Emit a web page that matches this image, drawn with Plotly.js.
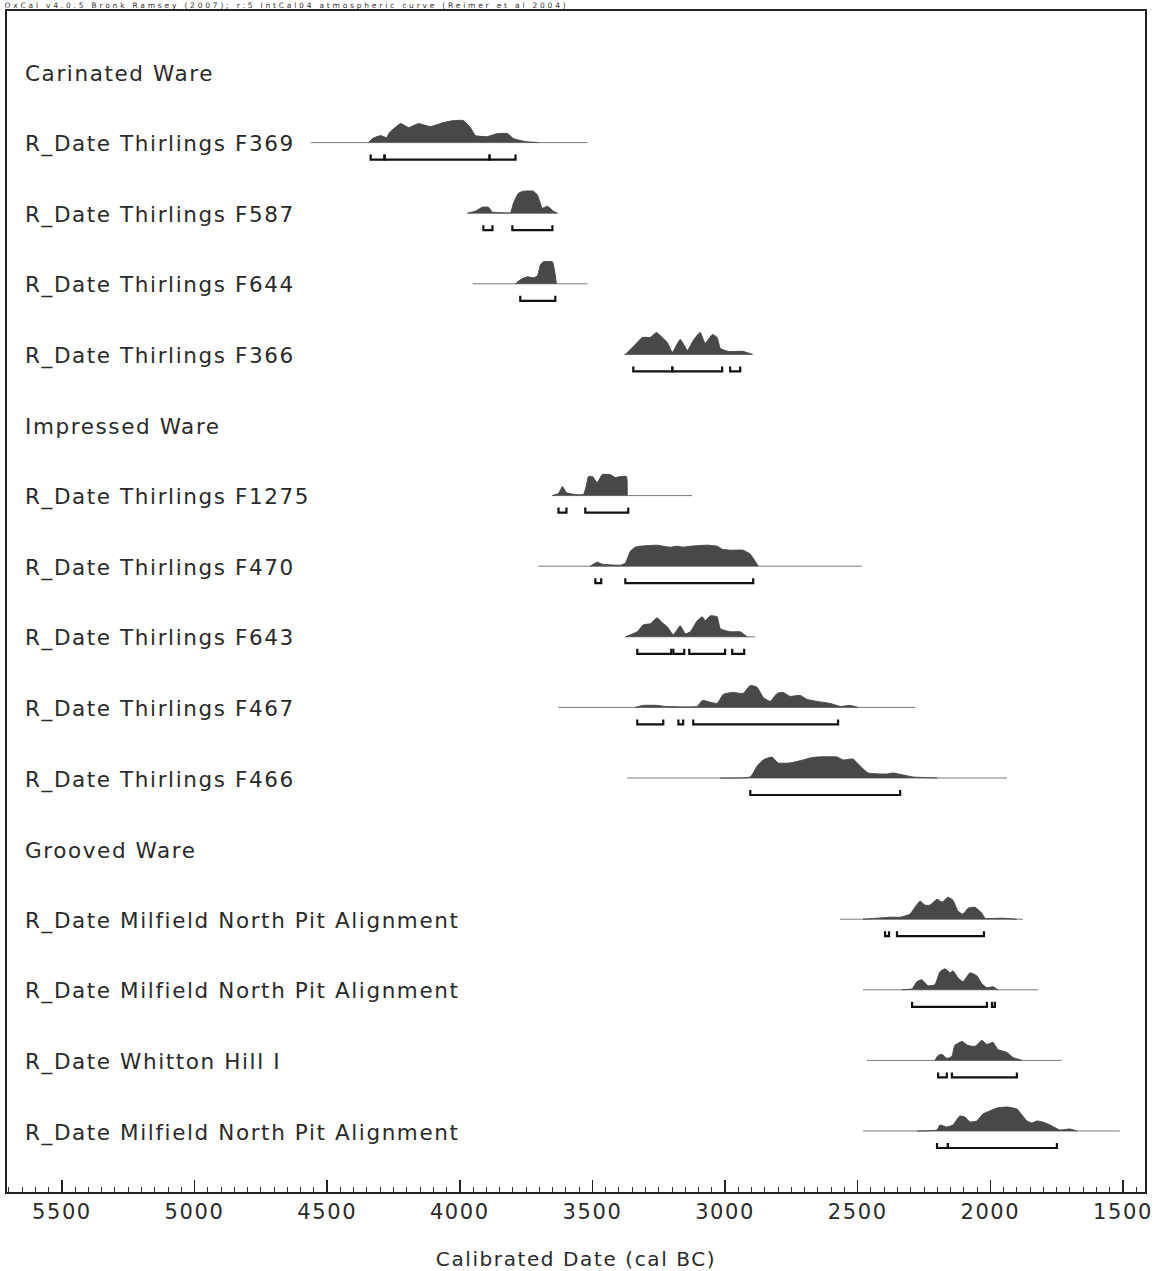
<!DOCTYPE html>
<html>
<head>
<meta charset="utf-8">
<script src="https://cdn.plot.ly/plotly-3.0.1.min.js"></script>
<style>
html, body { margin: 0; padding: 0; background: #fff; }
#chart { width: 1168px; height: 1271px; }
.annotation-text, .xtick text, .g-xtitle text { letter-spacing: 1.6px; }
g.annotation[data-index="0"] text { letter-spacing: 2.8px; }
</style>
</head>
<body>
<div id="chart"></div>
<script>
// ---------- DATA (calendar years BC; probability = relative density) ----------
const headerText = "OxCal v4.0.5 Bronk Ramsey (2007); r:5 IntCal04 atmospheric curve (Reimer et al 2004)";
const axisTitle = "Calibrated Date (cal BC)";
const tickValues = [5500, 5000, 4500, 4000, 3500, 3000, 2500, 2000, 1500];

const rowLabels = [
  "Carinated Ware",
  "R_Date Thirlings F369",
  "R_Date Thirlings F587",
  "R_Date Thirlings F644",
  "R_Date Thirlings F366",
  "Impressed Ware",
  "R_Date Thirlings F1275",
  "R_Date Thirlings F470",
  "R_Date Thirlings F643",
  "R_Date Thirlings F467",
  "R_Date Thirlings F466",
  "Grooved Ware",
  "R_Date Milfield North Pit Alignment",
  "R_Date Milfield North Pit Alignment",
  "R_Date Whitton Hill I",
  "R_Date Milfield North Pit Alignment"
];

// F369
const f369Line = [4562, 3519];
const f369Dates = [4344,4329,4299,4276,4265,4223,4193,4156,4111,4062,4024,3986,3960,3941,3896,3858,3820,3798,3753,3704];
const f369Prob  = [0,4,7,5,10,19,15,19,16,20,22,22,15,7,6,9,9,4,1,0];
const f369Ranges = [[4336,4284],[4284,3888],[3888,3790]];

// F587
const f587Line = [3971, 3632];
const f587Dates = [3971,3941,3915,3892,3877,3847,3809,3798,3779,3760,3722,3707,3689,3670,3647,3632];
const f587Prob  = [0,2,6,6,1,0.5,0.5,10,20,22,22,18,5,7,2,0];
const f587Ranges = [[3911,3877],[3802,3651]];

// F644
const f644Line = [3952, 3519];
const f644Dates = [3790,3772,3745,3722,3707,3696,3685,3651,3644,3636];
const f644Prob  = [0,4,7,6,8,19,22,22,15,0];
const f644Ranges = [[3772,3640]];

// F366
const f366Line = [3380, 2894];
const f366Dates = [3376,3357,3331,3312,3282,3259,3237,3218,3199,3169,3142,3120,3094,3075,3048,3030,3018,2988,2932,2898];
const f366Prob  = [0,5,12,17,17,22,17,12,2,15,4,14,22,11,20,17,6,3,3,0];
const f366Ranges = [[3346,3199],[3199,3011],[2981,2943]];

// F1275
const f1275Line = [3651, 3124];
const f1275Dates = [3651,3628,3613,3598,3564,3534,3523,3515,3500,3482,3463,3433,3414,3395,3372,3369];
const f1275Prob  = [0,2,9,3,1,1,10,19,19,13,21,21,18,19,19,0];
const f1275Ranges = [[3628,3598],[3527,3365]];

// F470
const f470Line = [3704, 2484];
const f470Dates = [3508,3482,3463,3395,3376,3357,3339,3320,3256,3233,3207,3180,3158,3131,3067,3030,3011,2981,2932,2905,2875];
const f470Prob  = [0,4,2,1,3,15,19,20,21,20,19,20,19,20,21,20,17,16,16,12,0];
const f470Ranges = [[3489,3467],[3376,2894]];

// F643
const f643Line = [3376, 2887];
const f643Dates = [3376,3331,3308,3282,3256,3237,3218,3195,3169,3150,3131,3105,3086,3075,3056,3030,3018,2981,2943,2917];
const f643Prob  = [0,5,12,13,19,14,10,2,11,3,5,16,20,16,21,20,8,5,5,0];
const f643Ranges = [[3331,3203],[3195,3154],[3135,3000],[2973,2928]];

// F467
const f467Line = [3629, 2284];
const f467Dates = [3339,3308,3256,3225,3105,3086,3067,3030,3007,2973,2932,2905,2879,2856,2830,2804,2781,2755,2717,2691,2653,2604,2566,2529,2499];
const f467Prob  = [0,2,2,1,1,7,6,4,13,15,14,22,20,10,6,14,15,11,12,8,6,4,1,2,0];
const f467Ranges = [[3331,3233],[3176,3158],[3120,2574]];

// F466
const f466Line = [3369, 1938];
const f466Dates = [3018,2905,2879,2856,2823,2800,2755,2706,2680,2653,2578,2555,2518,2491,2461,2416,2390,2367,2329,2292,2201];
const f466Prob  = [0,1,12,18,21,15,15,18,20,21,21,18,19,12,5,4,4,5,3,1,0];
const f466Ranges = [[2905,2340]];

// Milfield North Pit Alignment (1)
const mnpa1Line = [2567, 1877];
const mnpa1Dates = [2480,2427,2378,2340,2303,2284,2265,2246,2228,2201,2182,2160,2141,2122,2103,2084,2058,2032,2020,1953,1900];
const mnpa1Prob  = [0,1,2,2,5,12,18,14,14,20,17,22,19,8,5,11,12,6,1,1,0];
const mnpa1Ranges = [[2397,2382],[2352,2024]];

// Milfield North Pit Alignment (2)
const mnpa2Line = [2480, 1821];
const mnpa2Dates = [2333,2295,2277,2258,2235,2209,2190,2171,2152,2141,2122,2103,2077,2051,2032,2013,1990,1972];
const mnpa2Prob  = [0,1,8,10,4,5,18,21,17,19,12,8,17,14,6,2,3,0];
const mnpa2Ranges = [[2295,2013],[1994,1983]];

// Whitton Hill I
const whitLine = [2465, 1731];
const whitDates = [2209,2197,2182,2164,2145,2134,2107,2085,2058,2032,2013,1990,1972,1938,1915,1881];
const whitProb  = [0,5,6,2,4,15,19,15,14,20,16,18,11,8,3,0];
const whitRanges = [[2197,2164],[2145,1900]];

// Milfield North Pit Alignment (3)
const mnpa3Line = [2480, 1512];
const mnpa3Dates = [2277,2201,2190,2164,2141,2115,2096,2077,2051,2028,2002,1975,1937,1900,1881,1862,1843,1825,1802,1775,1738,1700,1674];
const mnpa3Prob  = [0,1,6,4,6,15,14,9,10,17,20,23,24,22,16,10,8,10,9,6,1,2,0];
const mnpa3Ranges = [[2201,2160],[2160,1749]];

// ---------- assemble ----------
const samples = [
  {row: 1,  line: f369Line,  dates: f369Dates,  prob: f369Prob,  ranges: f369Ranges},
  {row: 2,  line: f587Line,  dates: f587Dates,  prob: f587Prob,  ranges: f587Ranges},
  {row: 3,  line: f644Line,  dates: f644Dates,  prob: f644Prob,  ranges: f644Ranges},
  {row: 4,  line: f366Line,  dates: f366Dates,  prob: f366Prob,  ranges: f366Ranges},
  {row: 6,  line: f1275Line, dates: f1275Dates, prob: f1275Prob, ranges: f1275Ranges},
  {row: 7,  line: f470Line,  dates: f470Dates,  prob: f470Prob,  ranges: f470Ranges},
  {row: 8,  line: f643Line,  dates: f643Dates,  prob: f643Prob,  ranges: f643Ranges},
  {row: 9,  line: f467Line,  dates: f467Dates,  prob: f467Prob,  ranges: f467Ranges},
  {row: 10, line: f466Line,  dates: f466Dates,  prob: f466Prob,  ranges: f466Ranges},
  {row: 12, line: mnpa1Line, dates: mnpa1Dates, prob: mnpa1Prob, ranges: mnpa1Ranges},
  {row: 13, line: mnpa2Line, dates: mnpa2Dates, prob: mnpa2Prob, ranges: mnpa2Ranges},
  {row: 14, line: whitLine,  dates: whitDates,  prob: whitProb,  ranges: whitRanges},
  {row: 15, line: mnpa3Line, dates: mnpa3Dates, prob: mnpa3Prob, ranges: mnpa3Ranges}
];

// style constants (row spacing in px -> y units of one row)
const ROW_PX = 70.6;
const PX = 1 / ROW_PX;
const RANGE_OFFSET = 17 * PX;
const RANGE_TICK = 5 * PX;
const TOP = 11, BOTTOM = 1192, FIRST_ROW = 72;

const traces = [];
samples.forEach(s => {
  traces.push({
    type: 'scatter', mode: 'lines', x: s.line, y: [s.row, s.row],
    line: {color: '#7a7a7a', width: 1}, hoverinfo: 'skip', showlegend: false
  });
  traces.push({
    type: 'scatter', mode: 'lines', x: s.dates, y: s.prob.map(p => s.row - p * PX),
    fill: 'toself', fillcolor: '#484848',
    line: {color: '#484848', width: 1, shape: 'spline', smoothing: 0.4},
    hoverinfo: 'skip', showlegend: false
  });
  const rx = [], ry = [];
  const yb = s.row + RANGE_OFFSET;
  s.ranges.forEach(r => {
    rx.push(r[0], r[0], r[1], r[1], null);
    ry.push(yb - RANGE_TICK, yb, yb, yb - RANGE_TICK, null);
  });
  traces.push({
    type: 'scatter', mode: 'lines', x: rx, y: ry, connectgaps: false,
    line: {color: '#111', width: 2.2}, hoverinfo: 'skip', showlegend: false
  });
});

const plotW = 1168 - 7 - 23;
const plotH = BOTTOM - TOP;

const annotations = [{
  text: headerText, xref: 'paper', yref: 'paper',
  x: 47 / plotW, y: 1 + 0.5 / plotH, xanchor: 'left', yanchor: 'bottom',
  showarrow: false, borderpad: 0,
  font: {family: 'DejaVu Sans', size: 7.5, color: '#333'}
}];
rowLabels.forEach((t, i) => {
  annotations.push({
    text: t, xref: 'paper', yref: 'y', x: 16 / plotW, y: i + 1.5 * PX,
    xanchor: 'left', yanchor: 'middle', showarrow: false,
    font: {family: 'DejaVu Sans', size: 21.5, color: '#2a2a2a'}
  });
});

const layout = {
  width: 1168, height: 1271,
  margin: {l: 7, r: 23, t: TOP, b: 1271 - BOTTOM, pad: 0},
  paper_bgcolor: '#fff', plot_bgcolor: '#fff',
  showlegend: false,
  xaxis: {
    range: [5707, 1417],
    tickvals: tickValues,
    ticktext: tickValues.map(String),
    ticks: 'inside', ticklen: 12, tickwidth: 1.5, tickcolor: '#222',
    minor: {dtick: 50, tick0: 0, ticks: 'inside', ticklen: 5, tickwidth: 1, tickcolor: '#333', showgrid: false},
    showline: true, mirror: true, linecolor: '#222', linewidth: 2,
    showgrid: false, zeroline: false,
    tickfont: {family: 'DejaVu Sans', size: 21, color: '#2a2a2a'},
    title: {text: axisTitle, standoff: 29, font: {family: 'DejaVu Sans', size: 20, color: '#2a2a2a'}}
  },
  yaxis: {
    range: [(BOTTOM - FIRST_ROW) / ROW_PX, -(FIRST_ROW - TOP) / ROW_PX],
    showticklabels: false, ticks: '', showgrid: false, zeroline: false,
    showline: true, mirror: true, linecolor: '#222', linewidth: 2
  },
  annotations: annotations
};

Plotly.newPlot('chart', traces, layout, {staticPlot: true, displayModeBar: false});
</script>
</body>
</html>
